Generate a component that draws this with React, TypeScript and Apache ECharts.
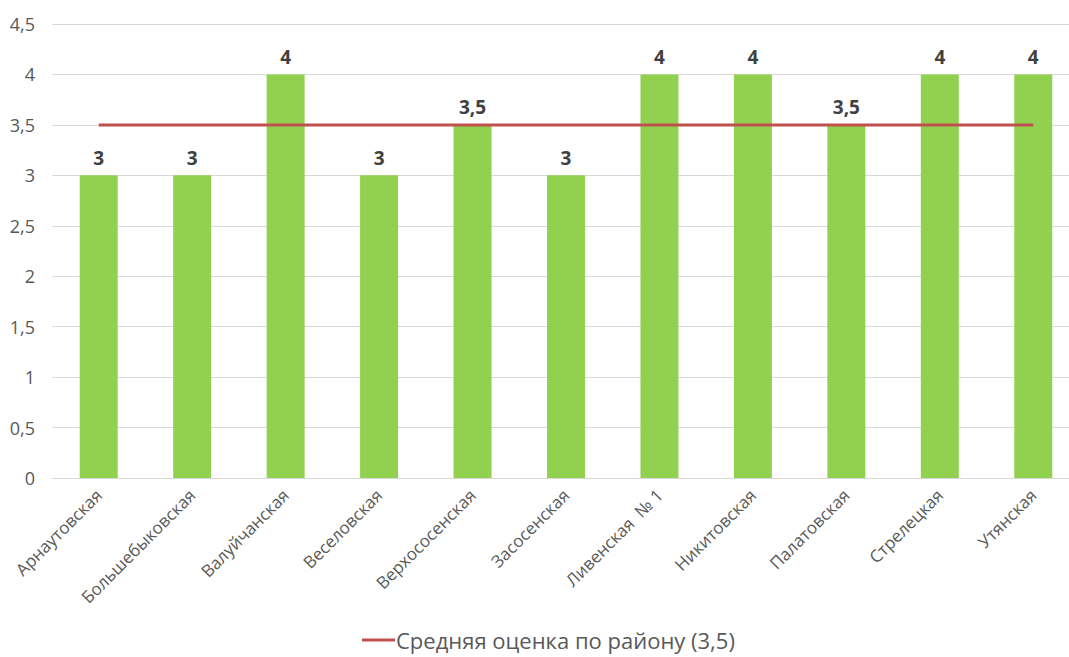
import React, { useEffect, useRef } from "react";
import * as echarts from "echarts";

const categories = [
  "Арнаутовская",
  "Большебыковская",
  "Валуйчанская",
  "Веселовская",
  "Верхососенская",
  "Засосенская",
  "Ливенская  № 1",
  "Никитовская",
  "Палатовская",
  "Стрелецкая",
  "Утянская",
];
const scores = [3, 3, 4, 3, 3.5, 3, 4, 4, 3.5, 4, 4];
const average = 3.5;
const averageName = "Средняя оценка по району (3,5)";

const fmt = (v: number) => String(v).replace(".", ",");

export default function App() {
  const ref = useRef<HTMLDivElement>(null);
  useEffect(() => {
    if (!ref.current) return;
    const chart = echarts.init(ref.current, null, { renderer: "svg" });
    chart.setOption({
      animation: false,
      textStyle: { fontFamily: "Open Sans" },
      grid: { left: 52, top: 24, width: 1028, height: 454, containLabel: false },
      legend: {
        data: [averageName],
        left: 362,
        top: 629,
        padding: 0,
        itemWidth: 33,
        itemHeight: 3,
        itemGap: 4,
        icon: "rect",
        textStyle: { fontSize: 22, color: "#595959", fontFamily: "Open Sans", padding: [0, 0, 0, -4] },
      },
      xAxis: {
        type: "category",
        data: categories,
        boundaryGap: true,
        axisLine: { show: true, lineStyle: { color: "#D9D9D9", width: 1 } },
        axisTick: { show: false },
        axisLabel: {
          rotate: 45,
          interval: 0,
          fontSize: 17,
          color: "#595959",
          margin: 14,
          fontFamily: "Open Sans",
        },
      },
      yAxis: {
        type: "value",
        min: 0,
        max: 4.5,
        interval: 0.5,
        axisLine: { show: false },
        axisTick: { show: false },
        splitLine: { lineStyle: { color: "#D9D9D9", width: 1 } },
        axisLabel: {
          fontSize: 18,
          color: "#595959",
          margin: 17,
          fontFamily: "Open Sans",
          formatter: (v: number) => fmt(v),
        },
      },
      series: [
        {
          type: "bar",
          name: "Оценка",
          data: scores,
          barWidth: 38,
          itemStyle: { color: "#92D050" },
          label: {
            show: true,
            position: "top",
            distance: 8,
            fontSize: 19,
            fontWeight: "bold",
            color: "#404040",
            fontFamily: "Open Sans",
            formatter: (p: any) => fmt(p.value),
          },
          z: 2,
        },
        {
          type: "line",
          name: averageName,
          data: categories.map(() => average),
          symbol: "none",
          lineStyle: { color: "#C0504D", width: 3 },
          itemStyle: { color: "#C0504D" },
          z: 3,
        },
      ],
    });
    return () => chart.dispose();
  }, []);
  return (
    <div
      ref={ref}
      style={{ position: "absolute", left: 0, top: 0, width: 1100, height: 657 }}
    />
  );
}
